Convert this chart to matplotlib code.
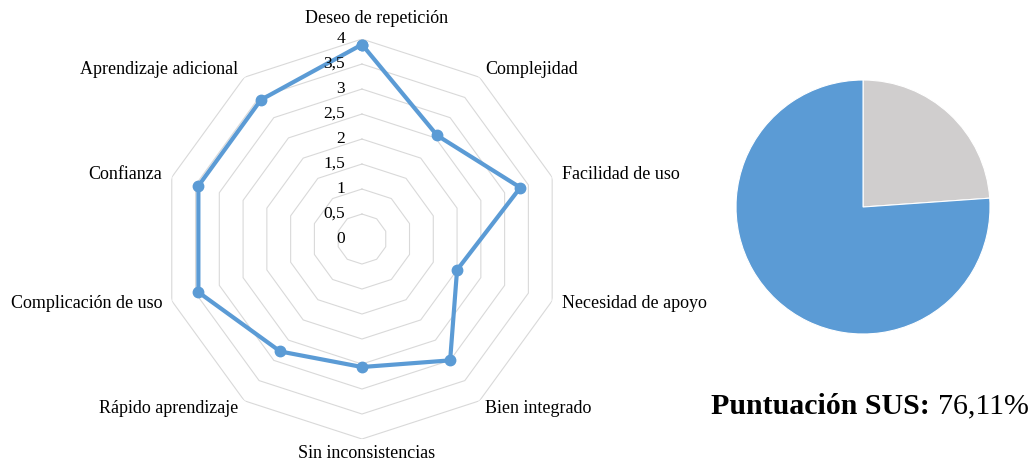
import numpy as np
import matplotlib
matplotlib.use("Agg")
import matplotlib.pyplot as plt
from matplotlib.transforms import offset_copy

plt.rcParams['font.family'] = ['Liberation Serif', 'DejaVu Serif']

# ---------------- data ----------------
categories = ["Deseo de repetición", "Complejidad", "Facilidad de uso",
              "Necesidad de apoyo", "Bien integrado", "Sin inconsistencias",
              "Rápido aprendizaje", "Complicación de uso", "Confianza",
              "Aprendizaje adicional"]
scores = [3.89, 2.56, 3.33, 2.0, 3.0, 2.56, 2.78, 3.44, 3.44, 3.44]
ring_values = [0.5, 1, 1.5, 2, 2.5, 3, 3.5, 4]
ring_labels = ["0", "0,5", "1", "1,5", "2", "2,5", "3", "3,5", "4"]
sus_score = 76.11
pie_values = [100 - sus_score, sus_score]

blue = "#5B9BD5"
grey = "#D0CECE"
grid_col = "#D9D9D9"

fig = plt.figure(figsize=(10.33, 4.63), dpi=100)

# ---------------- radar ----------------
ax = fig.add_axes([0.1568, 0.0518, 0.3872, 0.8639], projection="polar")
ax.set_theta_zero_location("N")
ax.set_theta_direction(-1)
ax.set_ylim(0, 4)
ax.grid(False)
ax.spines["polar"].set_visible(False)
ax.set_xticks([])
ax.set_yticks([])
ax.patch.set_visible(False)

n = len(categories)
angles = np.linspace(0, 2 * np.pi, n, endpoint=False)
closed = np.concatenate([angles, angles[:1]])

# polygon gridlines
for r in ring_values:
    ax.plot(closed, [r] * (n + 1), color=grid_col, lw=0.8, zorder=1)

vals = scores + scores[:1]
ax.plot(closed, vals, color=blue, lw=3, zorder=3,
        marker="o", markersize=7.5, solid_joinstyle="round")

# scale labels along the top spoke
tr = offset_copy(ax.transData, fig=fig, x=-17, y=0, units="dots")
for i, lab in enumerate(ring_labels):
    ax.text(0, i * 0.5, lab, transform=tr, ha="right", va="center",
            fontsize=12.5, zorder=4)

# category labels (top and bottom ones sit a bit right of the axis, like Excel)
for a, lab in zip(angles, categories):
    s, c = np.sin(a), np.cos(a)
    ha = "left" if s > 0.1 else ("right" if s < -0.1 else "center")
    r = 4.2
    t = ax.transData
    if c > 0.9:
        r = 4.42
        t = offset_copy(ax.transData, fig=fig, x=15, y=0, units="dots")
    elif c < -0.9:
        r = 4.28
        t = offset_copy(ax.transData, fig=fig, x=5, y=0, units="dots")
    ax.text(a, r, lab, ha=ha, va="center", fontsize=13, transform=t)

# ---------------- pie ----------------
ax2 = fig.add_axes([0.7125, 0.2786, 0.2459, 0.5486])
ax2.pie(pie_values, colors=[grey, blue], startangle=90, counterclock=False,
        wedgeprops=dict(edgecolor="white", linewidth=0.8))
ax2.set_xlim(-1, 1)
ax2.set_ylim(-1, 1)
ax2.set_aspect("equal")

fig.text(0.9, 0.122, "Puntuación SUS:", fontsize=21.5, fontweight="bold",
         ha="right", va="center")
fig.text(0.908, 0.122, f"{sus_score:.2f}%".replace(".", ","), fontsize=21.5,
         ha="left", va="center")

fig.savefig("out.png", dpi=100)
